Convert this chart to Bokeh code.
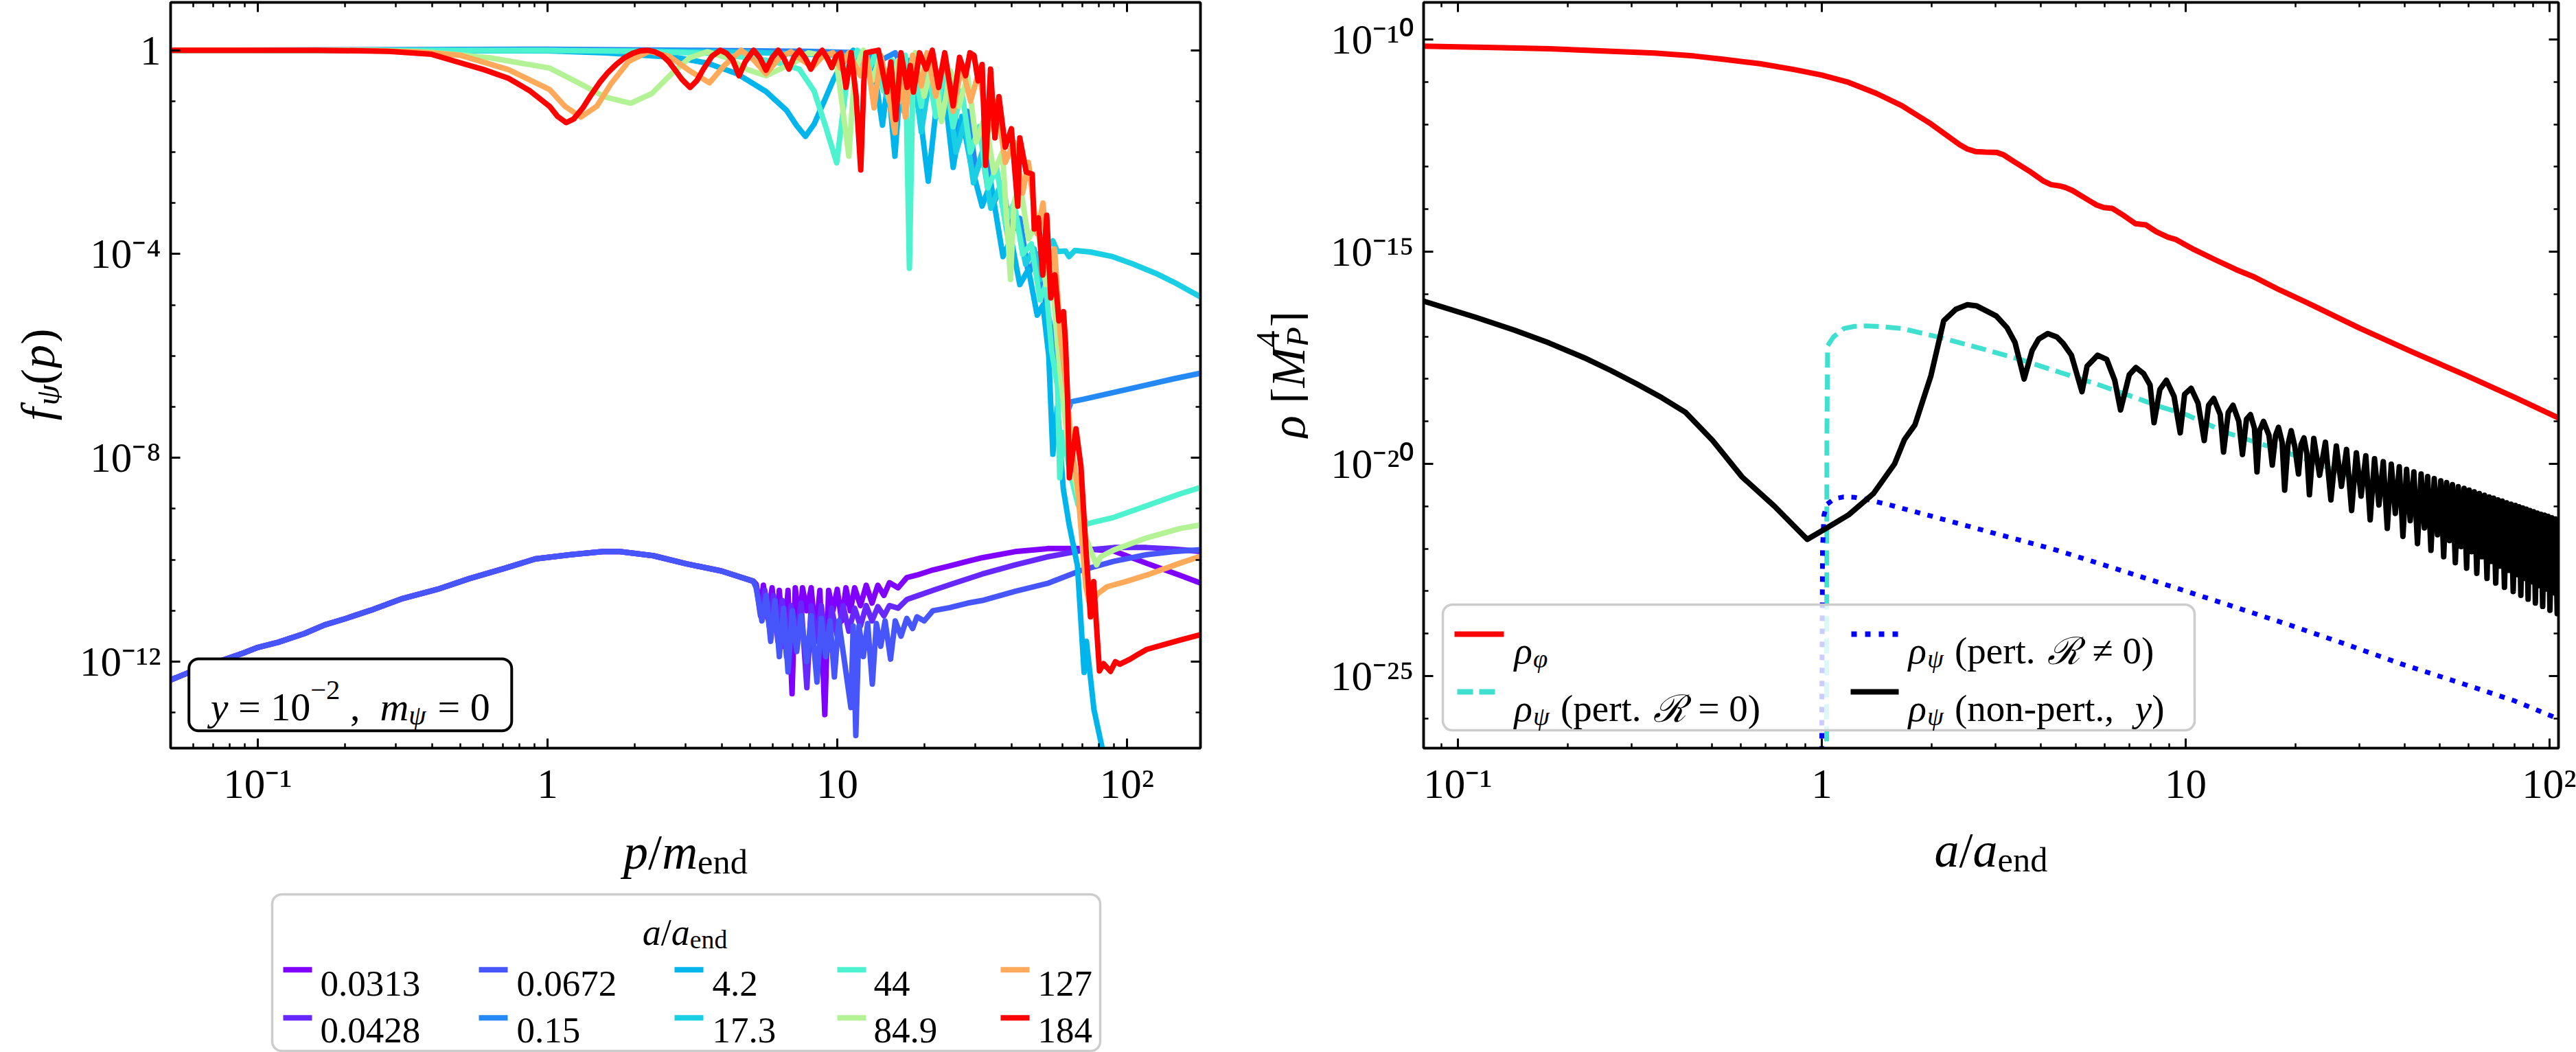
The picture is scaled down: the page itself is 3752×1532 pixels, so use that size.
import numpy as np
from bokeh.plotting import figure
from bokeh.models import (Range1d, LinearScale, LogAxis, FixedTicker, Label,
                          BoxAnnotation, ColumnDataSource, CustomJSTickFormatter)
from bokeh.layouts import row, column
from bokeh.embed import file_html
from bokeh.resources import INLINE

# ---------------------------------------------------------------------------
# Left panel: occupation number f_psi(p) vs p/m_end, stored as (log10 p, log10 f)
# ---------------------------------------------------------------------------
snap_labels = ["0.0313", "0.0428", "0.0672", "0.15", "4.2",
               "17.3", "44", "84.9", "127", "184"]
snap_colors = ["#8000ff", "#6628fe", "#4756fb", "#2489f5", "#00b4ec",
               "#1acee3", "#4df3ce", "#b3f396", "#ffa95a", "#ff0000"]

early_low = [(-1.31, -12.38), (-1.25, -12.24), (-1.20, -12.12), (-1.15, -12.03),
             (-1.11, -11.95), (-1.05, -11.83), (-1.00, -11.72), (-0.93, -11.62),
             (-0.84, -11.45), (-0.77, -11.28), (-0.70, -11.16), (-0.61, -10.99),
             (-0.50, -10.76), (-0.38, -10.58), (-0.27, -10.37), (-0.15, -10.17),
             (-0.04, -9.98), (0.08, -9.90), (0.19, -9.84), (0.25, -9.84),
             (0.365, -9.92), (0.48, -10.08), (0.60, -10.22), (0.71, -10.42)]

f_0313 = early_low + [
    (0.72, -10.48), (0.735, -10.95), (0.745, -10.5), (0.76, -11.15), (0.775, -10.55),
    (0.79, -11.35), (0.80, -10.6), (0.815, -11.7), (0.83, -10.6), (0.844, -12.63),
    (0.855, -10.55), (0.87, -11.3), (0.88, -10.55), (0.895, -11.0), (0.91, -10.55),
    (0.925, -11.5), (0.94, -10.6), (0.957, -13.04), (0.97, -10.6), (0.985, -11.0),
    (1.0, -10.58), (1.015, -11.2), (1.03, -10.55), (1.045, -11.0), (1.06, -10.55),
    (1.08, -10.9), (1.10, -10.5), (1.12, -10.85), (1.14, -10.5), (1.161, -10.7),
    (1.18, -10.45), (1.21, -10.55), (1.24, -10.35), (1.275, -10.30), (1.33, -10.2),
    (1.388, -10.12), (1.45, -10.03), (1.50, -9.96), (1.614, -9.84), (1.728, -9.78),
    (1.841, -9.78), (1.955, -9.83), (2.068, -10.07), (2.181, -10.30), (2.26, -10.47)]

f_0428 = early_low + [
    (0.72, -10.5), (0.735, -11.1), (0.75, -10.6), (0.765, -11.3), (0.78, -10.7),
    (0.795, -11.6), (0.81, -10.8), (0.825, -11.9), (0.84, -10.9), (0.86, -11.5),
    (0.875, -10.85), (0.895, -12.51), (0.91, -10.9), (0.93, -11.6), (0.945, -10.9),
    (0.965, -11.8), (0.98, -10.95), (1.0, -11.5), (1.02, -10.9), (1.04, -11.4),
    (1.06, -10.95), (1.08, -11.3), (1.10, -10.9), (1.12, -11.2), (1.14, -10.92),
    (1.161, -11.1), (1.18, -10.9), (1.21, -10.95), (1.24, -10.78), (1.275, -10.71),
    (1.33, -10.6), (1.388, -10.49), (1.50, -10.28), (1.614, -10.10), (1.728, -9.94),
    (1.841, -9.82), (1.955, -9.76), (2.068, -9.76), (2.16, -9.79), (2.26, -9.84)]

f_0672 = early_low + [
    (0.72, -10.55), (0.74, -11.2), (0.755, -10.7), (0.77, -11.6), (0.785, -10.8),
    (0.80, -11.9), (0.815, -10.95), (0.83, -12.2), (0.845, -11.0), (0.86, -11.8),
    (0.875, -11.1), (0.895, -12.0), (0.91, -11.1), (0.93, -12.4), (0.945, -11.15),
    (0.96, -11.9), (0.975, -11.2), (0.99, -12.3), (1.005, -11.2), (1.025, -12.0),
    (1.047, -12.9), (1.055, -11.3), (1.064, -13.45), (1.075, -11.3), (1.09, -11.9),
    (1.105, -11.25), (1.121, -12.44), (1.135, -11.25), (1.15, -11.7), (1.165, -11.2),
    (1.184, -11.95), (1.20, -11.2), (1.22, -11.5), (1.24, -11.15), (1.26, -11.35),
    (1.275, -11.12), (1.30, -11.2), (1.33, -11.0), (1.388, -10.94), (1.45, -10.85),
    (1.50, -10.80), (1.614, -10.62), (1.728, -10.46), (1.841, -10.21), (1.955, -10.03),
    (2.068, -9.90), (2.16, -9.84), (2.26, -9.80)]

f_015 = [(-1.31, 0.0), (0.0, 0.02), (0.5, 0.0), (0.9, -0.02), (1.1, -0.05), (1.15, -0.2),
         (1.2, -0.05), (1.24, -0.5), (1.27, -0.1), (1.30, -0.9), (1.33, -0.3), (1.36, -1.2),
         (1.39, -0.6), (1.42, -1.8), (1.45, -1.2), (1.48, -2.4), (1.51, -1.9), (1.54, -3.0),
         (1.57, -2.6), (1.60, -3.6), (1.63, -3.3), (1.66, -4.4), (1.69, -4.0), (1.72, -5.0),
         (1.74, -5.5), (1.76, -6.2), (1.78, -6.9), (1.795, -7.1), (1.807, -6.90),
         (1.85, -6.85), (1.95, -6.72), (2.068, -6.57), (2.16, -6.45), (2.26, -6.33)]

f_42 = [(-1.31, 0.0), (0.0, -0.01), (0.2, -0.05), (0.44, -0.14), (0.55, -0.25),
        (0.654, -0.46), (0.754, -0.81), (0.825, -1.18), (0.860, -1.48), (0.890, -1.69),
        (0.92, -1.45), (0.955, -1.0), (0.985, -0.6), (1.012, -0.3), (1.055, 0.0),
        (1.08, -0.1), (1.10, -0.4), (1.12, -0.1), (1.156, -1.47), (1.175, -0.6),
        (1.199, -2.08), (1.22, -0.5), (1.25, -0.2), (1.28, -1.0), (1.314, -2.57),
        (1.34, -1.2), (1.37, -0.8), (1.40, -2.30), (1.43, -1.3), (1.46, -2.2),
        (1.50, -3.06), (1.53, -2.6), (1.572, -4.05), (1.60, -3.7), (1.63, -4.6),
        (1.66, -4.3), (1.69, -5.2), (1.71, -5.0), (1.73, -6.0), (1.744, -7.93),
        (1.76, -7.0), (1.78, -8.6), (1.80, -9.3), (1.829, -10.12), (1.852, -12.21),
        (1.86, -11.6), (1.886, -12.94), (1.915, -13.71), (1.93, -14.5)]

f_173 = [(-1.31, 0.0), (0.3, -0.01), (0.7, -0.04), (1.0, -0.1), (1.05, -0.1), (1.10, -0.3),
         (1.14, -0.15), (1.17, -0.9), (1.20, -0.3), (1.23, -1.2), (1.26, -0.3), (1.29, -1.6),
         (1.32, -0.5), (1.35, -1.3), (1.38, -0.7), (1.41, -2.0), (1.44, -1.4), (1.47, -2.6),
         (1.50, -2.0), (1.53, -3.1), (1.56, -2.7), (1.59, -3.7), (1.62, -3.3), (1.65, -4.2),
         (1.68, -3.9), (1.70, -4.5), (1.72, -3.9), (1.744, -3.74), (1.76, -3.95),
         (1.788, -3.94), (1.80, -4.05), (1.82, -3.93), (1.874, -3.96), (1.95, -4.05),
         (2.018, -4.19), (2.10, -4.38), (2.161, -4.55), (2.26, -4.86)]

f_44 = [(-1.31, 0.0), (0.0, 0.0), (0.3, -0.02), (0.55, -0.06), (0.70, -0.15), (0.78, -0.22),
        (0.869, -0.37), (0.92, -0.8), (0.96, -1.5), (0.998, -2.21), (1.02, -1.2),
        (1.04, -0.3), (1.07, 0.0), (1.10, -0.5), (1.13, -0.1), (1.16, -0.8), (1.19, -0.2),
        (1.22, -1.0), (1.235, -0.1), (1.249, -4.28), (1.262, -0.3), (1.29, -1.1),
        (1.31, -0.2), (1.34, -1.3), (1.37, -0.4), (1.40, -1.5), (1.43, -0.8), (1.46, -2.0),
        (1.49, -1.5), (1.52, -2.7), (1.55, -2.3), (1.58, -3.4), (1.61, -3.0), (1.64, -4.0),
        (1.67, -3.8), (1.70, -4.9), (1.72, -4.6), (1.74, -5.9), (1.76, -6.6), (1.768, -8.39),
        (1.78, -7.5), (1.80, -8.2), (1.83, -8.9), (1.86, -9.3), (1.886, -9.26),
        (1.954, -9.17), (2.068, -8.94), (2.181, -8.71), (2.26, -8.57)]

f_849 = [(-1.31, 0.0), (-0.60, 0.0), (-0.40, -0.04), (-0.197, -0.15), (0.007, -0.35),
         (0.10, -0.62), (0.20, -0.92), (0.287, -1.04), (0.36, -0.85), (0.43, -0.45),
         (0.49, -0.15), (0.552, -0.03), (0.62, -0.15), (0.69, -0.38), (0.754, -0.50),
         (0.81, -0.35), (0.855, -0.23), (0.90, -0.05), (0.95, -0.1), (1.0, -0.35),
         (1.02, -1.2), (1.040, -2.08), (1.06, -0.4), (1.09, 0.0), (1.12, -0.6), (1.15, -0.1),
         (1.18, -1.0), (1.21, -0.2), (1.24, -0.7), (1.27, -0.05), (1.30, -0.9), (1.33, -0.2),
         (1.36, -1.4), (1.39, -0.4), (1.42, -1.1), (1.45, -0.5), (1.48, -1.8), (1.51, -1.3),
         (1.54, -2.4), (1.57, -2.0), (1.598, -4.5), (1.61, -3.0), (1.63, -2.6), (1.66, -3.7),
         (1.69, -3.4), (1.72, -4.6), (1.74, -4.3), (1.76, -5.8), (1.78, -6.9), (1.80, -7.9),
         (1.83, -8.7), (1.86, -9.6), (1.88, -9.9), (1.895, -10.1), (1.909, -9.94),
         (1.954, -9.81), (2.068, -9.57), (2.181, -9.39), (2.26, -9.31)]

f_127 = [(-1.31, 0.0), (-0.70, 0.0), (-0.45, -0.03), (-0.30, -0.10), (-0.135, -0.38),
         (0.007, -0.77), (0.06, -1.10), (0.115, -1.31), (0.17, -1.10), (0.22, -0.65),
         (0.28, -0.22), (0.351, -0.02), (0.42, -0.12), (0.49, -0.40), (0.559, -0.64),
         (0.61, -0.30), (0.668, 0.0), (0.71, -0.18), (0.754, -0.46), (0.80, -0.15),
         (0.84, -0.03), (0.88, -0.2), (0.915, -0.33), (0.95, -0.12), (0.985, -0.05),
         (1.01, -0.35), (1.04, -0.05), (1.08, -0.5), (1.10, -0.05), (1.127, -1.13),
         (1.15, -0.1), (1.17, -0.6), (1.199, -1.62), (1.215, -0.2), (1.235, -1.31),
         (1.26, -0.1), (1.29, -0.7), (1.31, -0.05), (1.34, -0.9), (1.37, -0.1), (1.40, -1.2),
         (1.43, -0.3), (1.46, -1.0), (1.49, -0.4), (1.52, -1.6), (1.55, -1.0), (1.58, -2.2),
         (1.61, -1.8), (1.64, -2.8), (1.66, -2.2), (1.69, -3.6), (1.71, -3.0), (1.73, -4.3),
         (1.75, -3.9), (1.77, -5.6), (1.79, -6.6), (1.81, -7.8), (1.83, -8.6), (1.85, -10.0),
         (1.858, -10.53), (1.872, -10.9), (1.898, -10.67), (1.931, -10.53), (2.0, -10.42),
         (2.068, -10.30), (2.181, -10.07), (2.26, -9.92)]

f_184 = [(-1.31, 0.0), (-0.80, 0.0), (-0.55, -0.02), (-0.40, -0.08), (-0.317, -0.22),
         (-0.22, -0.38), (-0.135, -0.55), (-0.06, -0.80), (0.007, -1.10), (0.035, -1.30),
         (0.064, -1.42), (0.09, -1.35), (0.122, -1.13), (0.15, -0.88), (0.179, -0.64),
         (0.208, -0.44), (0.237, -0.28), (0.265, -0.15), (0.294, -0.06), (0.32, -0.01),
         (0.345, 0.0), (0.37, -0.03), (0.395, -0.10), (0.418, -0.22), (0.438, -0.37),
         (0.465, -0.58), (0.492, -0.73), (0.515, -0.60), (0.538, -0.37), (0.567, -0.12),
         (0.596, 0.0), (0.618, -0.06), (0.639, -0.19), (0.661, -0.50), (0.682, -0.23),
         (0.711, 0.0), (0.733, -0.15), (0.754, -0.39), (0.775, -0.15), (0.796, 0.0),
         (0.815, -0.15), (0.833, -0.37), (0.851, -0.13), (0.869, 0.0), (0.889, -0.15),
         (0.909, -0.37), (0.929, -0.12), (0.948, 0.0), (0.965, -0.15), (0.981, -0.34),
         (0.996, -0.12), (1.012, -0.05), (1.030, -0.73), (1.048, -0.05), (1.065, -0.9),
         (1.081, -2.35), (1.092, -0.6), (1.099, -0.05), (1.142, 0.0), (1.171, -0.82),
         (1.185, -0.23), (1.202, -1.36), (1.220, -0.05), (1.241, -0.73), (1.252, -0.3),
         (1.263, -0.82), (1.284, -0.05), (1.307, -0.37), (1.328, 0.0), (1.350, -0.73),
         (1.371, -0.05), (1.400, -1.09), (1.422, -0.14), (1.443, -0.50), (1.458, -0.05),
         (1.472, -0.10), (1.486, -0.6), (1.500, -0.28), (1.512, -2.26), (1.529, -0.37),
         (1.544, -1.72), (1.558, -0.91), (1.580, -1.90), (1.601, -1.54), (1.623, -3.06),
         (1.630, -1.72), (1.652, -2.39), (1.673, -2.43), (1.680, -3.51), (1.694, -3.29),
         (1.709, -4.41), (1.723, -3.24), (1.737, -4.86), (1.751, -4.41), (1.765, -5.31),
         (1.781, -5.13), (1.788, -5.76), (1.795, -6.80), (1.801, -8.39), (1.824, -7.43),
         (1.841, -8.16), (1.858, -9.76), (1.874, -11.12), (1.885, -10.43), (1.898, -11.58),
         (1.905, -12.18), (1.919, -12.04), (1.943, -12.19), (1.96, -12.0), (1.975, -12.05),
         (2.011, -11.95), (2.04, -11.85), (2.068, -11.76), (2.124, -11.67), (2.181, -11.58),
         (2.26, -11.46)]

snap_curves = [f_0313, f_0428, f_0672, f_015, f_42, f_173, f_44, f_849, f_127, f_184]

# ---------------------------------------------------------------------------
# Right panel: energy densities vs a/a_end, stored as (log10 a, log10 rho)
# ---------------------------------------------------------------------------
rho_phi = [(-1.10, -10.155), (-0.90, -10.19), (-0.749, -10.22), (-0.60, -10.27),
           (-0.460, -10.32), (-0.35, -10.39), (-0.268, -10.47), (-0.17, -10.57),
           (-0.075, -10.71), (0.0, -10.84), (0.070, -11.00), (0.15, -11.27), (0.220, -11.56),
           (0.30, -11.99), (0.379, -12.48), (0.40, -12.58), (0.422, -12.64), (0.45, -12.655),
           (0.480, -12.66), (0.50, -12.72), (0.523, -12.85), (0.57, -13.10), (0.610, -13.34),
           (0.630, -13.42), (0.653, -13.45), (0.67, -13.49), (0.689, -13.56), (0.72, -13.72),
           (0.755, -13.90), (0.775, -13.96), (0.798, -13.98), (0.83, -14.15), (0.862, -14.34),
           (0.891, -14.37), (0.919, -14.53), (0.951, -14.66), (0.972, -14.71), (1.023, -14.95),
           (1.081, -15.19), (1.138, -15.42), (1.189, -15.60), (1.260, -15.91), (1.333, -16.20),
           (1.477, -16.80), (1.622, -17.36), (1.766, -17.90), (1.911, -18.46), (2.03, -18.94)]

rho_pert_r0 = [(0.012, -40.0), (0.014, -19.4), (0.016, -17.22), (0.032, -17.01),
               (0.061, -16.81), (0.09, -16.76), (0.126, -16.75), (0.17, -16.77),
               (0.220, -16.81), (0.27, -16.91), (0.328, -17.03), (0.437, -17.28),
               (0.545, -17.54), (0.653, -17.84), (0.762, -18.14), (0.884, -18.51),
               (0.929, -18.65), (1.001, -18.84), (1.117, -19.28), (1.225, -19.58),
               (1.333, -19.90), (1.45, -20.28), (1.60, -20.74), (1.75, -21.16),
               (1.90, -21.55), (2.03, -21.87)]

rho_pert_r = [(-0.001, -40.0), (0.0, -26.0), (0.002, -22.0), (0.006, -21.2), (0.015, -20.95),
              (0.035, -20.82), (0.06, -20.78), (0.09, -20.79), (0.13, -20.85), (0.2, -21.0),
              (0.3, -21.23), (0.45, -21.58), (0.640, -22.02), (0.80, -22.45), (0.979, -22.94),
              (1.13, -23.36), (1.286, -23.80), (1.44, -24.25), (1.594, -24.72), (1.75, -25.15),
              (1.902, -25.58), (2.03, -26.03)]

rho_nonpert = [
    (-1.10, -16.15), (-0.95, -16.55), (-0.845, -16.85), (-0.75, -17.15), (-0.653, -17.50),
    (-0.58, -17.8), (-0.508, -18.12), (-0.44, -18.44), (-0.374, -18.79), (-0.30, -19.45),
    (-0.219, -20.31), (-0.13, -21.0), (-0.04, -21.78), (0.006, -21.55), (0.074, -21.2),
    (0.142, -20.70), (0.20, -20.0), (0.227, -19.43), (0.256, -19.08), (0.300, -17.92),
    (0.335, -16.63), (0.368, -16.36), (0.400, -16.25), (0.426, -16.28), (0.451, -16.39),
    (0.480, -16.52), (0.509, -16.79), (0.531, -17.14), (0.556, -18.00), (0.578, -17.33),
    (0.596, -17.06), (0.621, -16.93), (0.646, -17.01), (0.664, -17.17), (0.686, -17.44),
    (0.715, -18.30), (0.729, -17.70), (0.758, -17.44), (0.783, -17.54), (0.805, -18.03),
    (0.821, -18.73), (0.845, -17.90), (0.863, -17.73), (0.884, -17.87), (0.902, -18.14),
    (0.913, -19.03), (0.929, -18.25), (0.947, -18.03), (0.968, -18.41), (0.985, -19.27),
    (0.997, -18.36), (1.015, -18.22), (1.034, -18.57), (1.051, -19.45), (1.063, -18.62),
    (1.077, -18.46), (1.095, -18.84), (1.104, -19.72), (1.117, -18.79), (1.130, -18.62),
    (1.146, -19.00), (1.156, -19.78), (1.167, -18.95), (1.178, -18.84), (1.189, -19.16),
    (1.196, -20.19), (1.203, -19.22), (1.214, -19.00), (1.229, -19.33), (1.238, -20.03),
    (1.247, -19.33), (1.255, -19.14), (1.265, -19.49), (1.272, -20.62), (1.281, -19.55),
    (1.290, -19.22), (1.300, -19.60), (1.310, -20.24), (1.317, -19.55), (1.325, -19.39),
    (1.333, -19.76), (1.340, -20.73),
    (1.352, -19.40), (1.368, -20.27), (1.384, -19.49), (1.399, -20.85), (1.414, -19.58),
    (1.428, -20.53), (1.442, -19.66), (1.456, -21.10), (1.469, -19.74), (1.482, -20.76),
    (1.495, -19.81), (1.507, -21.32), (1.519, -19.88), (1.531, -20.97), (1.543, -19.95),
    (1.554, -21.52), (1.565, -20.01), (1.576, -21.17), (1.587, -20.07), (1.597, -21.71),
    (1.607, -20.13), (1.617, -21.34), (1.627, -20.19), (1.637, -21.88), (1.647, -20.24),
    (1.656, -21.51), (1.665, -20.30), (1.674, -22.04), (1.683, -20.35), (1.692, -21.67),
    (1.701, -20.40), (1.709, -22.19), (1.717, -20.44), (1.725, -21.81), (1.733, -20.49),
    (1.741, -22.33), (1.749, -20.54), (1.757, -21.95), (1.765, -20.58), (1.772, -22.46),
    (1.779, -20.62), (1.786, -22.07), (1.793, -20.66), (1.800, -22.58), (1.807, -20.70),
    (1.814, -22.19), (1.821, -20.74), (1.828, -22.70), (1.834, -20.78), (1.840, -22.30),
    (1.846, -20.81), (1.852, -22.81), (1.858, -20.85), (1.864, -22.41), (1.870, -20.88),
    (1.876, -22.91), (1.882, -20.92), (1.888, -22.51), (1.894, -20.95), (1.900, -23.01),
    (1.906, -20.98), (1.911, -22.61), (1.916, -21.01), (1.921, -23.10), (1.926, -21.04),
    (1.931, -22.70), (1.936, -21.07), (1.941, -23.19), (1.946, -21.10), (1.951, -22.78),
    (1.956, -21.13), (1.961, -23.28), (1.966, -21.16), (1.971, -22.87), (1.976, -21.19),
    (1.981, -23.36), (1.986, -21.21), (1.991, -22.95), (1.996, -21.24), (2.001, -23.45),
    (2.006, -21.27), (2.011, -23.04), (2.016, -21.30), (2.021, -23.53), (2.026, -21.33)]

# tick positions and labels
p1_xticks = [0.1, 1, 10, 100]
p1_xminor = [0.06, 0.07, 0.08, 0.09, 0.2, 0.3, 0.4, 0.5, 0.6, 0.7, 0.8, 0.9,
             2, 3, 4, 5, 6, 7, 8, 9, 20, 30, 40, 50, 60, 70, 80, 90]
p1_xlabels = ["10⁻¹", "1", "10", "10²"]
p1_yticks = [1e-12, 1e-8, 1e-4, 1]
p1_yminor = [1e-13, 1e-11, 1e-10, 1e-9, 1e-7, 1e-6, 1e-5, 1e-3, 1e-2, 1e-1]
p1_ylabels = ["10⁻¹²", "10⁻⁸", "10⁻⁴", "1"]

p2_xticks = [0.1, 1, 10, 100]
p2_xminor = [0.09, 0.2, 0.3, 0.4, 0.5, 0.6, 0.7, 0.8, 0.9,
             2, 3, 4, 5, 6, 7, 8, 9, 20, 30, 40, 50, 60, 70, 80, 90]
p2_xlabels = ["10⁻¹", "1", "10", "10²"]
p2_yticks = [1e-25, 1e-20, 1e-15, 1e-10]
p2_yminor = [1e-26, 1e-24, 1e-23, 1e-22, 1e-21, 1e-19, 1e-18, 1e-17, 1e-16,
             1e-14, 1e-13, 1e-12, 1e-11]
p2_ylabels = ["10⁻²⁵", "10⁻²⁰", "10⁻¹⁵", "10⁻¹⁰"]

# ---------------------------------------------------------------------------
FONT = "Liberation Serif"
NBSP = "\u00a0"
EM = {'.': 0.25, ',': 0.25, NBSP: 0.25, '(': 0.333, ')': 0.333, '[': 0.333, ']': 0.333,
      '/': 0.278, '=': 0.564, '≠': 0.564, '−': 0.564, '-': 0.333, 'a': 0.5, 'e': 0.444,
      'n': 0.5, 'd': 0.5, 'p': 0.5, 'r': 0.39, 't': 0.28, 'o': 0.5, 'f': 0.3, 'm': 0.722,
      'y': 0.444, 'M': 0.833, 'P': 0.611, 'ρ': 0.5, 'ψ': 0.68, 'φ': 0.6, 'ℛ': 0.95}


def seg_width(txt, size):
    return sum(EM.get(ch, 0.5) for ch in txt) * size


def rich(fig, x, y, parts, size, align="left", angle=0.0, xr="default", yr="default"):
    """Place a run of text pieces (base / sub / sup) starting at page point (x, y).
    role "supover" puts a superscript above the preceding subscript.
    Rotated runs read bottom-to-top; each piece is anchored at its far end."""
    segs, total, prev_w = [], 0.0, 0.0
    for part in parts:
        txt, style, role = part[:3]
        txt = txt.replace(" ", NBSP)
        font = part[3] if len(part) > 3 else FONT
        s = size * (0.7 if role else 1.0)
        w = seg_width(txt, s)
        adv = max(0.0, w - prev_w) if role == "supover" else w
        segs.append((txt, style, role, s, w, adv, prev_w, font))
        total += adv
        prev_w = w
    pos = {"left": 0.0, "center": -total / 2, "right": -total}[align]
    for txt, style, role, s, w, adv, pw, font in segs:
        if role == "sub":
            shift = 0.2 * size
        elif role in ("sup", "supover"):
            shift = -0.42 * size
        else:
            shift = 0.0
        start = pos - pw if role == "supover" else pos
        if angle == 0.0:
            lx, ly, anchor = x + start, y + shift, "left"
        else:
            lx, ly, anchor = x + shift, y - start - w, "right"
        fig.add_layout(Label(x=lx, y=ly, x_range_name=xr, y_range_name=yr, text=txt,
                             text_font=font, text_font_style=style,
                             text_font_size=f"{s:.1f}px", text_color="black",
                             text_baseline="alphabetic", text_align=anchor, angle=angle))
        pos += adv


blank_fmt = CustomJSTickFormatter(code="return ' '")


def style_axis(ax, labels=True, standoff=16):
    ax.axis_line_color = "black"
    ax.axis_line_width = 3.5
    ax.major_tick_line_color = "black"
    ax.minor_tick_line_color = "black"
    ax.major_tick_line_width = 3
    ax.minor_tick_line_width = 2.5
    ax.major_tick_in = 14
    ax.major_tick_out = 0
    ax.minor_tick_in = 7
    ax.minor_tick_out = 0
    ax.major_label_text_font = FONT
    ax.major_label_text_color = "black"
    if labels:
        ax.major_label_text_font_size = "61px"
        ax.major_label_standoff = standoff
    else:
        ax.formatter = blank_fmt
        ax.major_label_text_font_size = "2px"
        ax.major_label_text_alpha = 0.0
        ax.major_label_standoff = 0


def rounded_box(fig, l, r, t, b, line_color, line_width, alpha, xr="default", yr="default"):
    box = BoxAnnotation(left=l, right=r, top=t, bottom=b, x_range_name=xr, y_range_name=yr,
                        fill_color="white", fill_alpha=alpha, line_color=line_color,
                        line_width=line_width, line_alpha=1.0)
    try:
        box.border_radius = 14
    except Exception:
        pass
    fig.add_layout(box)


def setup_axes(p, xt, xm, xl, yt, ym, yl):
    p.xaxis[0].ticker = FixedTicker(ticks=xt, minor_ticks=xm)
    p.yaxis[0].ticker = FixedTicker(ticks=yt, minor_ticks=ym)
    p.xaxis[0].major_label_overrides = {float(k): v for k, v in zip(xt, xl)}
    p.yaxis[0].major_label_overrides = {float(k): v for k, v in zip(yt, yl)}
    style_axis(p.xaxis[0], True, 18)
    style_axis(p.yaxis[0], True, 14)
    top = LogAxis(ticker=FixedTicker(ticks=xt, minor_ticks=xm))
    right = LogAxis(ticker=FixedTicker(ticks=yt, minor_ticks=ym))
    style_axis(top, False)
    style_axis(right, False)
    p.add_layout(top, "above")
    p.add_layout(right, "right")
    p.grid.visible = False
    p.outline_line_color = "black"
    p.outline_line_width = 3.5
    p.background_fill_color = "white"
    p.border_fill_color = "white"


def page_ranges(p, x0, x1, ytop, ybot):
    p.extra_x_ranges = {"px": Range1d(x0, x1)}
    p.extra_y_ranges = {"py": Range1d(ybot, ytop)}
    p.extra_x_scales = {"px": LinearScale()}
    p.extra_y_scales = {"py": LinearScale()}


def strip(width, height, xr, yr, left=0, right=0, top=0, bottom=0):
    """Blank canvas whose frame uses page pixel coordinates (y grows downward)."""
    f = figure(width=width, height=height, x_range=Range1d(*xr), y_range=Range1d(*yr),
               x_axis_location=None, y_axis_location=None, output_backend="svg",
               toolbar_location=None, min_border=0, min_border_left=left,
               min_border_right=right, min_border_top=top, min_border_bottom=bottom)
    f.grid.visible = False
    f.outline_line_color = None
    f.background_fill_color = "white"
    f.border_fill_color = "white"
    return f


def to_source(pts, xname, yname):
    lx, ly = zip(*pts)
    return ColumnDataSource({xname: np.power(10.0, np.array(lx)),
                             yname: np.power(10.0, np.array(ly))})


# ---------------------------------------------------------------------------
# Left panel
# ---------------------------------------------------------------------------
p1 = figure(width=1690, height=1185, x_axis_type="log", y_axis_type="log",
            x_range=Range1d(10 ** -1.301, 10 ** 2.2536),
            y_range=Range1d(10 ** -13.697, 10 ** 0.939),
            output_backend="svg", toolbar_location=None,
            min_border_left=158, min_border_right=32, min_border_top=3, min_border_bottom=96)
setup_axes(p1, p1_xticks, p1_xminor, p1_xlabels, p1_yticks, p1_yminor, p1_ylabels)
page_ranges(p1, 248, 1748, 3, 1089)

for pts, col in zip(snap_curves, snap_colors):
    p1.line("p", "f", source=to_source(pts, "p", "f"), line_color=col, line_width=8,
            line_join="round")

rounded_box(p1, 274.7, 744.8, 959, 1063.7, "black", 4, 1.0, xr="px", yr="py")
rich(p1, 509.7, 1029, [("y", "italic", ""), (" = ", "normal", ""), ("10", "normal", ""),
                       ("−2", "normal", "sup"), (" ,  ", "normal", ""), ("m", "italic", ""),
                       ("ψ", "italic", "sub"), (" = 0", "normal", "")], 58, align="center",
     xr="px", yr="py")

ylab1 = strip(90, 1532, (0, 90), (1089, 3), top=3, bottom=443)
rich(ylab1, 55, 546, [("f", "italic", ""), ("ψ", "italic", "sub"), ("(", "normal", ""),
                      ("p", "italic", ""), (")", "normal", "")], 70, align="center",
     angle=np.pi / 2)

xlab1 = strip(1690, 95, (248, 1748), (1280, 1185), left=158, right=32)
rich(xlab1, 998, 1240, [("p", "italic", ""), ("/", "normal", ""), ("m", "italic", ""),
                        ("end", "normal", "sub")], 72, align="center")

# legend of snapshot times, below the left panel
leg = strip(1690, 252, (248, 1748), (1532, 1280), left=158, right=32)
rounded_box(leg, 396, 1602, 1302, 1530, "#cccccc", 3.5, 0.8)
rich(leg, 997, 1357, [("a", "italic", ""), ("/", "normal", ""), ("a", "italic", ""),
                      ("end", "normal", "sub")], 54, align="center")
col_swatch = [412, 697, 982, 1219, 1457]
col_text = [466, 752, 1037, 1272, 1511]
row_mid = [1411.7, 1481.7]
row_base = [1431.7, 1500.0]
for i, (lab, col) in enumerate(zip(snap_labels, snap_colors)):
    c, r = i // 2, i % 2
    sw = leg.line([col_swatch[c], col_swatch[c] + 42], [row_mid[r], row_mid[r]],
                  line_color=col, line_width=8)
    sw.level = "overlay"
    leg.add_layout(Label(x=col_text[c], y=row_base[r], text=lab, text_font=FONT,
                         text_font_size="53px", text_color="black",
                         text_baseline="alphabetic", text_align="left"))

# ---------------------------------------------------------------------------
# Right panel
# ---------------------------------------------------------------------------
p2 = figure(width=1847, height=1185, x_axis_type="log", y_axis_type="log",
            x_range=Range1d(10 ** -1.0943, 10 ** 2.0245),
            y_range=Range1d(10 ** -26.70, 10 ** -9.126),
            output_backend="svg", toolbar_location=None,
            min_border_left=168, min_border_right=26, min_border_top=3, min_border_bottom=96)
setup_axes(p2, p2_xticks, p2_xminor, p2_xlabels, p2_yticks, p2_yminor, p2_ylabels)
page_ranges(p2, 2073, 3726, 3, 1089)

p2.line("a", "rho", source=to_source(rho_phi, "a", "rho"), line_color="#ff0000",
        line_width=8, line_join="round")
p2.line("a", "rho", source=to_source(rho_pert_r0, "a", "rho"), line_color="#40e0d0",
        line_width=7, line_dash="22 10", line_join="round")
p2.line("a", "rho", source=to_source(rho_pert_r, "a", "rho"), line_color="#0000ff",
        line_width=7, line_dash="8 11", line_join="round")
p2.line("a", "rho", source=to_source(rho_nonpert, "a", "rho"), line_color="black",
        line_width=8, line_join="round")

rounded_box(p2, 2101, 3196, 880, 1063, "#cccccc", 3.5, 0.8, xr="px", yr="py")
for xs, yv, col, dash in [((2118, 2190), 923, "#ff0000", "solid"),
                          ((2122, 2178), 1007, "#40e0d0", "23 9"),
                          ((2696, 2764), 923, "#0000ff", "8 12"),
                          ((2695, 2765), 1007, "black", "solid")]:
    sw = p2.line(list(xs), [yv, yv], x_range_name="px", y_range_name="py",
                 line_color=col, line_width=8, line_dash=dash)
    sw.level = "overlay"

rich(p2, 2205, 947, [("ρ", "italic", ""), ("φ", "italic", "sub")], 55, xr="px", yr="py")
rich(p2, 2205, 1031, [("ρ", "italic", ""), ("ψ", "italic", "sub"), (" (pert. ", "normal", ""),
                      ("ℛ", "italic", "", "DejaVu Serif"), (" = 0)", "normal", "")], 55,
     xr="px", yr="py")
rich(p2, 2779, 947, [("ρ", "italic", ""), ("ψ", "italic", "sub"), (" (pert. ", "normal", ""),
                     ("ℛ", "italic", "", "DejaVu Serif"), (" ≠ 0)", "normal", "")], 55,
     xr="px", yr="py")
rich(p2, 2779, 1031, [("ρ", "italic", ""), ("ψ", "italic", "sub"),
                      (" (non-pert.,  ", "normal", ""), ("y", "italic", ""),
                      (")", "normal", "")], 55, xr="px", yr="py")

ylab2 = strip(125, 1532, (1780, 1905), (1089, 3), top=3, bottom=443)
rich(ylab2, 1876, 546, [("ρ", "italic", ""), (" [", "normal", ""), ("M", "italic", ""),
                        ("P", "italic", "sub"), ("4", "normal", "supover"),
                        ("]", "normal", "")], 70, align="center", angle=np.pi / 2)

xlab2 = strip(1847, 347, (2073, 3726), (1532, 1185), left=168, right=26)
rich(xlab2, 2899.5, 1237, [("a", "italic", ""), ("/", "normal", ""), ("a", "italic", ""),
                           ("end", "normal", "sub")], 72, align="center")

layout = row(ylab1, column(p1, xlab1, leg), ylab2, column(p2, xlab2))
open("out.html", "w").write(file_html(layout, INLINE))
